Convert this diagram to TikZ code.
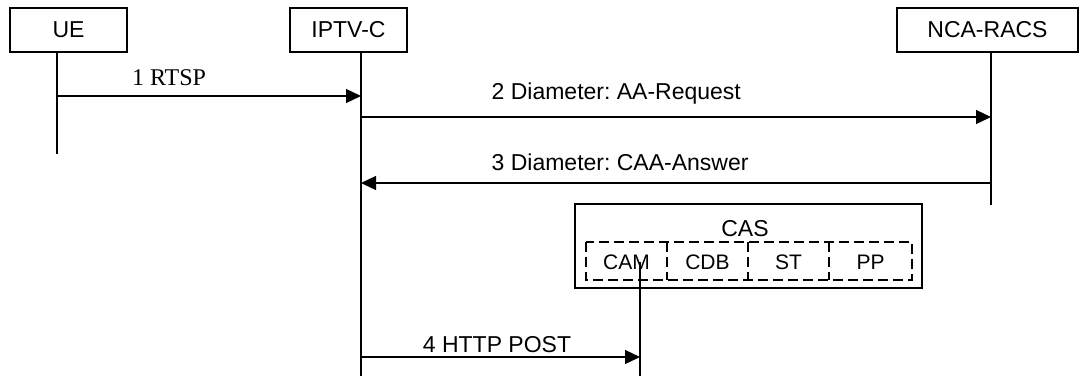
\documentclass[tikz,border=0pt]{standalone}
\usepackage{fontspec}
\setmainfont{Liberation Sans}
\newfontfamily\serifmsg{Liberation Serif}
\usetikzlibrary{arrows.meta}
\frenchspacing
\begin{document}
\begin{tikzpicture}[x=1pt,y=-1pt,
  line width=1.3pt,
  ent/.style={draw,line width=1.3pt,minimum height=44pt,inner sep=0pt,font=\fontsize{23}{26}\selectfont},
  lifeline/.style={line width=1.3pt},
  msg/.style={line width=1.3pt,-{Triangle[length=15pt,width=14pt]}},
  lbl/.style={font=\fontsize{23}{26}\selectfont,inner sep=0pt},
  cell/.style={font=\fontsize{21}{24}\selectfont,inner sep=0pt},
  dsh/.style={line width=1.3pt,dash pattern=on 10pt off 5pt}]
\useasboundingbox (0,0) rectangle (1080,376);
% entities
\node[ent,minimum width=117pt] (ue) at (68.5,30) {UE};
\node[ent,minimum width=117pt] (iptv) at (348.5,30) {IPTV-C};
\node[ent,minimum width=181pt] (nca) at (987.5,30) {NCA-RACS};
% lifeline coordinates
\coordinate (ueT) at (57,52);   \coordinate (ueB) at (57,154);
\coordinate (ipT) at (361,52);  \coordinate (ipB) at (361,376);
\coordinate (ncT) at (991,52);  \coordinate (ncB) at (991,205);
\draw[lifeline] (ueT) -- (ueB);
\draw[lifeline] (ipT) -- (ipB);
\draw[lifeline] (ncT) -- (ncB);
% CAS
\node[draw,line width=1.3pt,minimum width=347pt,minimum height=84pt,inner sep=0pt] (cas) at (748.5,246) {};
\node[lbl] (castxt) at (745,229) {CAS};
\draw[dsh] (586,242) rectangle (912,280);
\draw[dsh] (667,242) -- (667,280);
\draw[dsh] (748,242) -- (748,280);
\draw[dsh] (829,242) -- (829,280);
\node[cell] (cam) at (626.5,262) {CAM};
\node[cell] (cdb) at (707.5,262) {CDB};
\node[cell] (st) at (788.5,262) {ST};
\node[cell] (pp) at (870.5,262) {PP};
\coordinate (caT) at (640,262); \coordinate (caB) at (640,376);
\draw[lifeline] (caT) -- (caB);
% messages
\coordinate (m1s) at (57,96);   \coordinate (m1e) at (361,96);
\coordinate (m2s) at (361,117); \coordinate (m2e) at (991,117);
\coordinate (m3s) at (991,183); \coordinate (m3e) at (361,183);
\coordinate (m4s) at (361,357); \coordinate (m4e) at (640,357);
\draw[msg] (m1s) -- (m1e);
\draw[msg] (m2s) -- (m2e);
\draw[msg] (m3s) -- (m3e);
\draw[msg] (m4s) -- (m4e);
\node[lbl,font=\serifmsg\fontsize{24}{26}\selectfont] (l1) at (169,78) {1 RTSP};
\node[lbl,anchor=west] (l2) at (491,94) {2 Diameter: AA-Request};
\node[lbl,anchor=west] (l3) at (491,162) {3 Diameter: CAA-Answer};
\node[lbl] (l4) at (497,345) {4 HTTP POST};
\end{tikzpicture}
\end{document}
